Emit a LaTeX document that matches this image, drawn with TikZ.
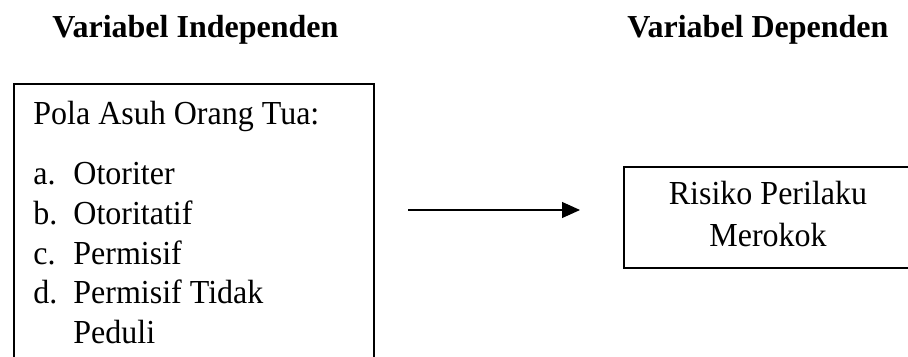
\documentclass[tikz,border=0pt]{standalone}
\usepackage{fontspec}
\setmainfont{Liberation Serif}
\usetikzlibrary{arrows.meta}
\begin{document}
\begin{tikzpicture}[x=0.5pt,y=-0.5pt,
  frame/.style={draw=black,line width=1pt,inner sep=0pt,anchor=north west},
  txt/.style={inner sep=0pt,font=\fontsize{16pt}{19.75pt}\selectfont},
  head/.style={txt,font=\fontsize{16pt}{19.75pt}\selectfont\bfseries,anchor=base west},
  conn/.style={line width=0.55pt,-{Triangle[length=9pt,width=8pt]}}]
\useasboundingbox (0,0) rectangle (908,357);
\clip (0,0) rectangle (908,357);
\fill[white] (0,0) rectangle (908,357);
% headers
\node[head] (hind) at (52,38) {Variabel Independen};
\node[head] (hdep) at (627,38) {Variabel Dependen};
% left box
\node[frame,minimum width=180pt,minimum height=160pt] (lbox) at (13,83) {};
\node[txt,anchor=base west] (ttl) at (33,125) {\scalebox{1}[1.05]{Pola Asuh Orang Tua:}};
\node[txt,anchor=base west] (la) at (33,185) {\scalebox{1}[1.05]{a.}};
\node[txt,anchor=base west] (ia) at (73,185) {\scalebox{1}[1.05]{Otoriter}};
\node[txt,anchor=base west] (lb) at (33,225) {\scalebox{1}[1.05]{b.}};
\node[txt,anchor=base west] (ib) at (73,225) {\scalebox{1}[1.05]{Otoritatif}};
\node[txt,anchor=base west] (lc) at (33,264) {\scalebox{1}[1.05]{c.}};
\node[txt,anchor=base west] (ic) at (73,264) {\scalebox{1}[1.05]{Permisif}};
\node[txt,anchor=base west] (ld) at (33,303) {\scalebox{1}[1.05]{d.}};
\node[txt,anchor=base west] (id) at (73,303) {\scalebox{1}[1.05]{Permisif Tidak}};
\node[txt,anchor=base west] (id2) at (73,343) {\scalebox{1}[1.05]{Peduli}};
% right box
\node[frame,minimum width=143pt,minimum height=50.5pt] (rbox) at (623,166) {};
\node[txt,anchor=base] (r1) at (768,205) {\scalebox{1}[1.05]{Risiko Perilaku}};
\node[txt,anchor=base] (r2) at (768,247) {\scalebox{1}[1.05]{Merokok}};
% arrow
\coordinate (a1) at (408,210);
\coordinate (a2) at (580,210);
\draw[conn] (a1) -- (a2);
\end{tikzpicture}
\end{document}
